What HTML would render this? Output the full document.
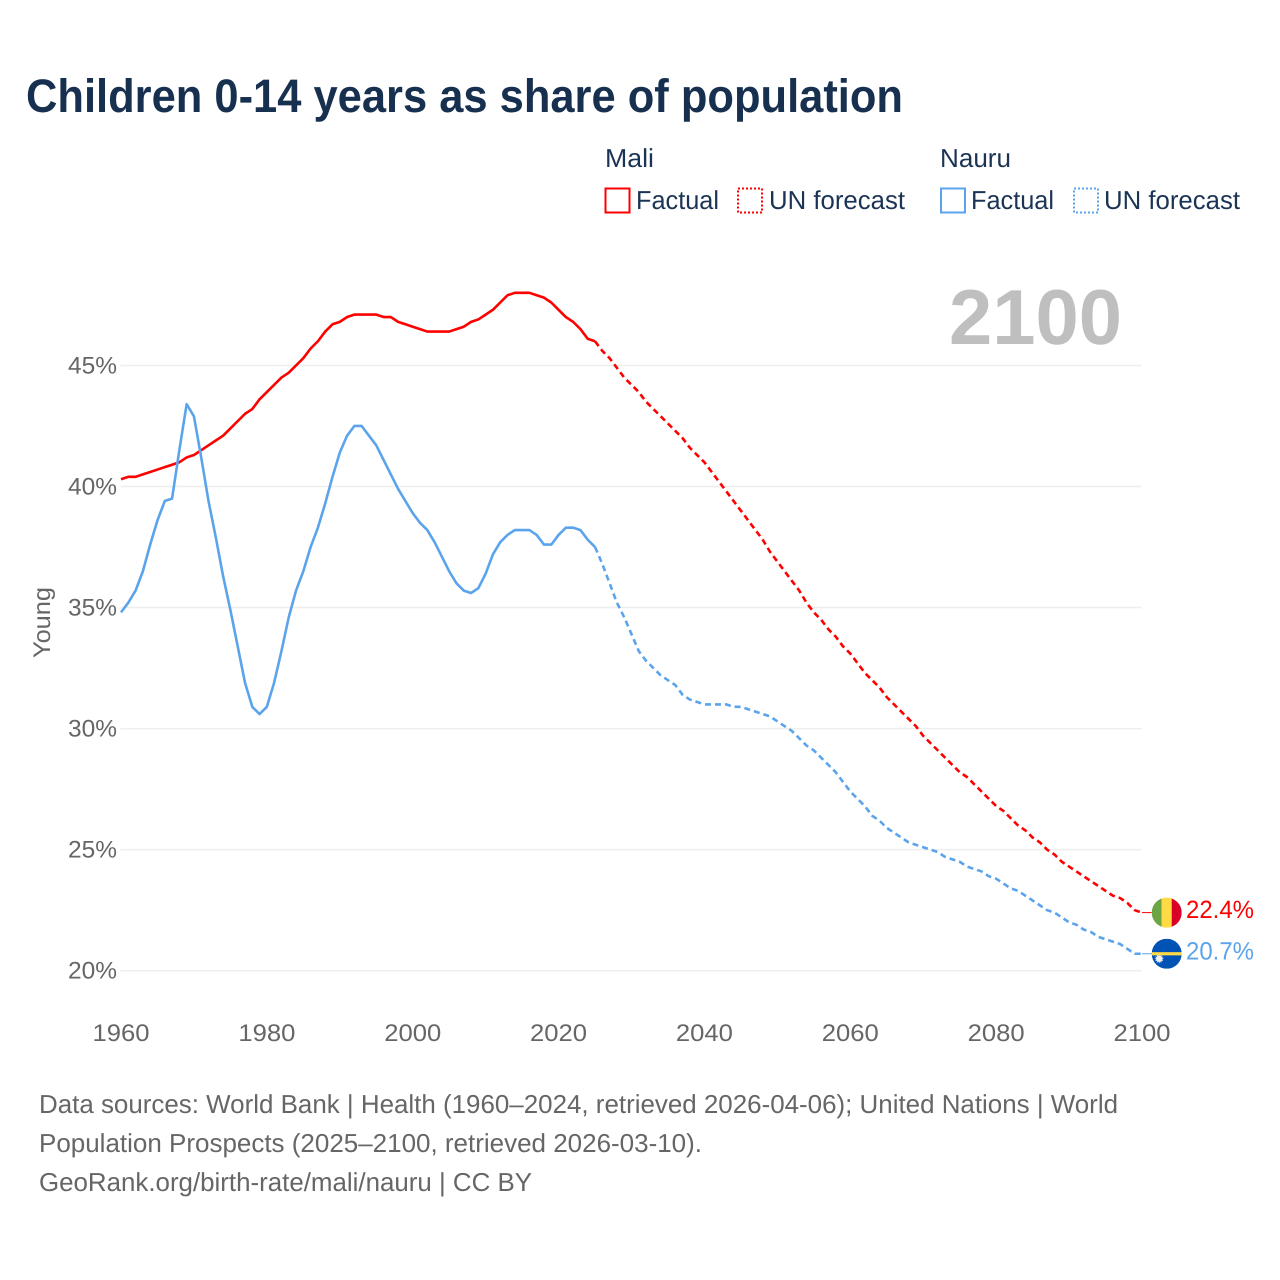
<!DOCTYPE html>
<html lang="en">
<head>
<meta charset="utf-8">
<title>Children 0-14 years as share of population</title>
<style>
  html, body { margin: 0; padding: 0; background: #fff; }
  svg { display: block; font-family: "Liberation Sans", sans-serif; text-rendering: geometricPrecision; }
</style>
</head>
<body>
<svg id="chart" width="1280" height="1280" viewBox="0 0 1280 1280" xmlns="http://www.w3.org/2000/svg">
  <rect width="1280" height="1280" fill="#fff"/>
  <text x="26" y="112" font-size="47" font-weight="700" fill="#18304f" textLength="877" lengthAdjust="spacingAndGlyphs">Children 0-14 years as share of population</text>

  <g font-size="26" fill="#1b3354">
    <text x="605" y="167" textLength="49" lengthAdjust="spacingAndGlyphs">Mali</text>
    <rect x="605.500" y="188.500" width="24" height="24" fill="none" stroke="#ff0000" stroke-width="2"/>
    <text x="636" y="209" textLength="83" lengthAdjust="spacingAndGlyphs">Factual</text>
    <rect x="738" y="188.500" width="24" height="24" fill="none" stroke="#ff0000" stroke-width="2" stroke-dasharray="2 2"/>
    <text x="769" y="209" textLength="136" lengthAdjust="spacingAndGlyphs">UN forecast</text>
    <text x="940" y="167" textLength="71" lengthAdjust="spacingAndGlyphs">Nauru</text>
    <rect x="941" y="188.500" width="24" height="24" fill="none" stroke="#5ba4ec" stroke-width="2"/>
    <text x="971" y="209" textLength="83" lengthAdjust="spacingAndGlyphs">Factual</text>
    <rect x="1074" y="188.500" width="24" height="24" fill="none" stroke="#5ba4ec" stroke-width="2" stroke-dasharray="2 2"/>
    <text x="1104" y="209" textLength="136" lengthAdjust="spacingAndGlyphs">UN forecast</text>
  </g>

  <g id="grid"></g>
  <g id="yticks" font-size="24" fill="#666"></g>
  <g id="xticks" font-size="24" fill="#666"></g>
  <text transform="translate(50 658) rotate(-90)" x="0" y="0" font-size="24" fill="#666" textLength="71" lengthAdjust="spacingAndGlyphs">Young</text>
  <text x="949" y="344" font-size="78" font-weight="700" fill="#bfbfbf" textLength="173" lengthAdjust="spacingAndGlyphs">2100</text>

  <g id="series"></g>
  <g id="endmarks"></g>

  <g font-size="26" fill="#666">
    <text x="39" y="1113" textLength="1079" lengthAdjust="spacingAndGlyphs">Data sources: World Bank | Health (1960–2024, retrieved 2026-04-06); United Nations | World</text>
    <text x="39" y="1152" textLength="663" lengthAdjust="spacingAndGlyphs">Population Prospects (2025–2100, retrieved 2026-03-10).</text>
    <text x="39" y="1191" textLength="493" lengthAdjust="spacingAndGlyphs">GeoRank.org/birth-rate/mali/nauru | CC BY</text>
  </g>
</svg>
<script>
const firstYear = 1960;
const lastYear = 2100;
const forecastStartYear = 2025;
const yTicks = [20, 25, 30, 35, 40, 45];
const xTicks = [1960, 1980, 2000, 2020, 2040, 2060, 2080, 2100];
const maliFactual = [
  40.3, 40.4, 40.4, 40.5, 40.6, 40.7, 40.8, 40.9, 41.0, 41.2,
  41.3, 41.5, 41.7, 41.9, 42.1, 42.4, 42.7, 43.0, 43.2, 43.6,
  43.9, 44.2, 44.5, 44.7, 45.0, 45.3, 45.7, 46.0, 46.4, 46.7,
  46.8, 47.0, 47.1, 47.1, 47.1, 47.1, 47.0, 47.0, 46.8, 46.7,
  46.6, 46.5, 46.4, 46.4, 46.4, 46.4, 46.5, 46.6, 46.8, 46.9,
  47.1, 47.3, 47.6, 47.9, 48.0, 48.0, 48.0, 47.9, 47.8, 47.6,
  47.3, 47.0, 46.8, 46.5, 46.1, 46.0
];
const maliForecast = [
  46.0, 45.6, 45.3, 44.9, 44.5, 44.2, 43.9, 43.5, 43.2, 42.9,
  42.6, 42.3, 42.0, 41.6, 41.3, 41.0, 40.6, 40.2, 39.8, 39.4,
  39.0, 38.6, 38.2, 37.8, 37.3, 36.9, 36.5, 36.1, 35.7, 35.2,
  34.8, 34.5, 34.1, 33.8, 33.4, 33.1, 32.7, 32.3, 32.0, 31.7,
  31.3, 31.0, 30.7, 30.4, 30.1, 29.7, 29.4, 29.1, 28.8, 28.5,
  28.2, 28.0, 27.7, 27.4, 27.1, 26.8, 26.6, 26.3, 26.0, 25.8,
  25.5, 25.3, 25.0, 24.8, 24.5, 24.3, 24.1, 23.9, 23.7, 23.5,
  23.3, 23.1, 23.0, 22.8, 22.5, 22.4
];
const nauruFactual = [
  34.8, 35.2, 35.7, 36.5, 37.6, 38.6, 39.4, 39.5, 41.5, 43.4,
  42.9, 41.2, 39.4, 37.9, 36.3, 34.9, 33.4, 31.9, 30.9, 30.6,
  30.9, 31.9, 33.2, 34.6, 35.7, 36.5, 37.5, 38.3, 39.3, 40.4,
  41.4, 42.1, 42.5, 42.5, 42.1, 41.7, 41.1, 40.5, 39.9, 39.4,
  38.9, 38.5, 38.2, 37.7, 37.1, 36.5, 36.0, 35.7, 35.6, 35.8,
  36.4, 37.2, 37.7, 38.0, 38.2, 38.2, 38.2, 38.0, 37.6, 37.6,
  38.0, 38.3, 38.3, 38.2, 37.8, 37.5
];
const nauruForecast = [
  37.5, 36.8, 36.0, 35.2, 34.6, 33.9, 33.2, 32.8, 32.5, 32.2,
  32.0, 31.8, 31.4, 31.2, 31.1, 31.0, 31.0, 31.0, 31.0, 30.9,
  30.9, 30.8, 30.7, 30.6, 30.5, 30.3, 30.1, 29.9, 29.6, 29.3,
  29.1, 28.8, 28.5, 28.2, 27.8, 27.4, 27.1, 26.8, 26.4, 26.2,
  25.9, 25.7, 25.5, 25.3, 25.2, 25.1, 25.0, 24.9, 24.7, 24.6,
  24.5, 24.3, 24.2, 24.1, 23.9, 23.8, 23.6, 23.4, 23.3, 23.1,
  22.9, 22.7, 22.5, 22.4, 22.2, 22.0, 21.9, 21.7, 21.6, 21.4,
  21.3, 21.2, 21.1, 20.9, 20.7, 20.7
];

const NS = 'http://www.w3.org/2000/svg';
const plotLeft = 121;
const plotRight = 1142;
const y20 = 970.7;
const pxPerPoint = 24.21;
const xScale = function (year) {
  return plotLeft + (year - firstYear) * (plotRight - plotLeft) / (lastYear - firstYear);
};
const yScale = function (value) {
  return y20 - (value - yTicks[0]) * pxPerPoint;
};
const make = function (tag, attrs, parent) {
  const el = document.createElementNS(NS, tag);
  Object.keys(attrs).forEach(function (k) { el.setAttribute(k, attrs[k]); });
  parent.appendChild(el);
  return el;
};

const gridGroup = document.getElementById('grid');
const yTickGroup = document.getElementById('yticks');
yTicks.forEach(function (tick) {
  const line = make('line', { x1: 120.5, x2: 1141.5, y1: yScale(tick), y2: yScale(tick), stroke: '#eeeeee', 'stroke-width': 1.5 }, gridGroup);
  
  
  const label = make('text', { x: 68, y: yScale(tick) + 8, textLength: 49, lengthAdjust: 'spacingAndGlyphs' }, yTickGroup);
  
  
  label.textContent = tick + '%';
});

const xTickGroup = document.getElementById('xticks');
xTicks.forEach(function (tick) {
  const label = make('text', { x: xScale(tick) - 28.5, y: 1041, textLength: 57, lengthAdjust: 'spacingAndGlyphs' }, xTickGroup);
  
  
  label.textContent = String(tick);
});

const seriesGroup = document.getElementById('series');
const toPoints = function (values, startYear) {
  return values.map(function (v, i) {
    return xScale(startYear + i).toFixed(2) + ',' + yScale(v).toFixed(2);
  }).join(' ');
};
const drawSeries = function (values, startYear, color, dashed) {
  const attrs = { points: toPoints(values, startYear), fill: 'none', stroke: color, 'stroke-width': 2.6, 'stroke-linejoin': 'round' };
  if (dashed) { attrs['stroke-dasharray'] = '6 4'; }
  return make('polyline', attrs, seriesGroup);
};
const maliFactualLine = drawSeries(maliFactual, firstYear, '#ff0000', false);


const maliForecastLine = drawSeries(maliForecast, forecastStartYear, '#ff0000', true);


const nauruFactualLine = drawSeries(nauruFactual, firstYear, '#5ba4ec', false);


const nauruForecastLine = drawSeries(nauruForecast, forecastStartYear, '#5ba4ec', true);



const endGroup = document.getElementById('endmarks');
const flagX = 1166.7;
const flagR = 15;
const maliLast = maliForecast[maliForecast.length - 1];
const nauruLast = nauruForecast[nauruForecast.length - 1];
const maliY = yScale(maliLast);
const nauruY = yScale(nauruLast);

const maliConnector = make('line', { x1: plotRight, x2: flagX - flagR, y1: maliY, y2: maliY, stroke: '#ff0000', 'stroke-width': 1 }, endGroup);


const nauruConnector = make('line', { x1: plotRight, x2: flagX - flagR, y1: nauruY, y2: nauruY, stroke: '#5ba4ec', 'stroke-width': 1 }, endGroup);



const defs = make('defs', {}, endGroup);
const clipMali = make('clipPath', { id: 'clip-mali' }, defs);
make('circle', { cx: flagX, cy: maliY, r: flagR }, clipMali);
const clipNauru = make('clipPath', { id: 'clip-nauru' }, defs);
make('circle', { cx: flagX, cy: nauruY, r: flagR }, clipNauru);

const maliFlag = make('g', { 'clip-path': 'url(#clip-mali)' }, endGroup);


make('rect', { x: flagX - flagR, y: maliY - flagR, width: 10, height: 30, fill: '#6da544' }, maliFlag);
make('rect', { x: flagX - flagR + 10, y: maliY - flagR, width: 10, height: 30, fill: '#ffda44' }, maliFlag);
make('rect', { x: flagX - flagR + 20, y: maliY - flagR, width: 10, height: 30, fill: '#d80027' }, maliFlag);

const nauruFlag = make('g', { 'clip-path': 'url(#clip-nauru)' }, endGroup);


make('rect', { x: flagX - flagR, y: nauruY - flagR, width: 30, height: 30, fill: '#0052b4' }, nauruFlag);
make('rect', { x: flagX - flagR, y: nauruY - 1.6, width: 30, height: 3.2, fill: '#ffda44' }, nauruFlag);
const starPoints = [];
for (let i = 0; i < 24; i++) {
  const radius = i % 2 === 0 ? 4.8 : 2.9;
  const angle = i * Math.PI / 12;
  starPoints.push((flagX - 7.5 + radius * Math.cos(angle)).toFixed(2) + ',' + (nauruY + 5 + radius * Math.sin(angle)).toFixed(2));
}
make('polygon', { points: starPoints.join(' '), fill: '#f0f0f0' }, nauruFlag);

const maliLabel = make('text', { x: 1186, y: maliY + 5.5, 'font-size': 25, fill: '#ff0000', textLength: 68, lengthAdjust: 'spacingAndGlyphs' }, endGroup);


maliLabel.textContent = maliLast.toFixed(1) + '%';
const nauruLabel = make('text', { x: 1186, y: nauruY + 5.5, 'font-size': 25, fill: '#5ba4ec', textLength: 68, lengthAdjust: 'spacingAndGlyphs' }, endGroup);


nauruLabel.textContent = nauruLast.toFixed(1) + '%';
</script>
</body>
</html>
